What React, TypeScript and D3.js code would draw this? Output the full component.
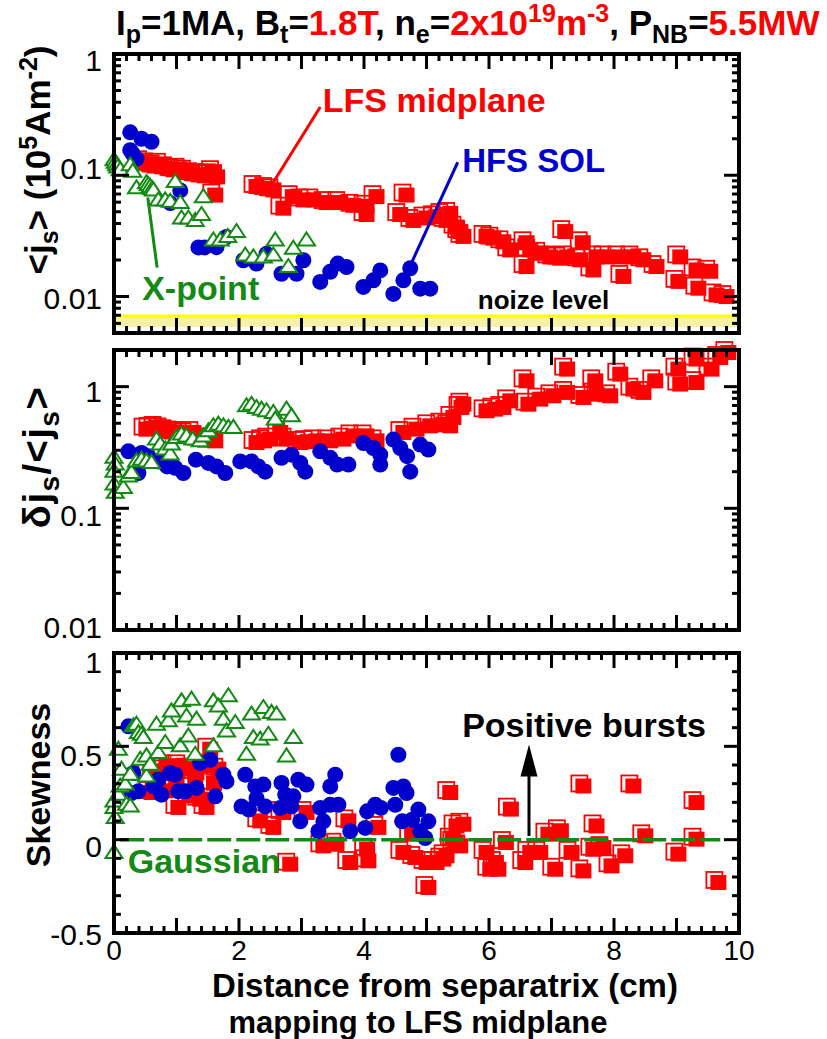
import React from "react";
import * as d3 from "d3";

// ---------------- data ----------------
const xTickValues = [0, 2, 4, 6, 8, 10];
const xTickLabels = ["0", "2", "4", "6", "8", "10"];
const jsTickValues = [1, 0.1, 0.01];
const jsTickLabels = ["1", "0.1", "0.01"];
const djTickValues = [1, 0.1, 0.01];
const djTickLabels = ["1", "0.1", "0.01"];
const skTickValues = [1, 0.5, 0, -0.5];
const skTickLabels = ["1", "0.5", "0", "-0.5"];

// <js> (1e5 A/m2) — LFS midplane (red squares)
const jsLFS: [number, number][] = [
  [0.45, 0.128], [0.55, 0.123], [0.65, 0.118], [0.75, 0.122], [0.85, 0.114], [0.95, 0.11],
  [1.05, 0.111], [1.15, 0.107], [1.25, 0.102], [1.35, 0.1], [1.45, 0.098], [1.55, 0.1],
  [1.6, 0.106], [1.65, 0.096], [1.62, 0.068],
  [2.28, 0.08], [2.45, 0.077], [2.55, 0.075], [2.71, 0.053], [2.86, 0.066], [3.03, 0.062],
  [3.19, 0.062], [3.4, 0.059], [3.62, 0.059], [3.83, 0.056], [4.04, 0.055], [4.2, 0.066],
  [4.04, 0.047], [4.68, 0.068], [4.58, 0.047], [4.79, 0.042], [5.0, 0.044], [5.15, 0.045],
  [5.27, 0.047], [5.38, 0.048], [5.32, 0.042], [5.48, 0.037], [5.54, 0.034], [5.59, 0.031],
  [5.96, 0.031], [6.07, 0.03], [6.23, 0.028], [6.34, 0.024], [6.6, 0.0275], [6.66, 0.024],
  [6.6, 0.0175], [6.82, 0.0225], [6.98, 0.021], [7.14, 0.0205], [7.25, 0.021], [7.22, 0.034],
  [7.46, 0.0199], [7.5, 0.0275], [7.67, 0.0164], [7.72, 0.021], [7.88, 0.021], [8.1, 0.021],
  [8.15, 0.0145], [8.31, 0.021], [8.47, 0.0199], [8.68, 0.0175], [9.06, 0.021], [9.03, 0.0132],
  [9.32, 0.0164], [9.54, 0.016], [9.35, 0.0116], [9.64, 0.0102], [9.8, 0.0099],
];
// HFS SOL (blue circles)
const jsHFS: [number, number][] = [
  [0.26, 0.226], [0.44, 0.2], [0.6, 0.189], [0.26, 0.161], [0.36, 0.137], [0.3, 0.15],
  [1.06, 0.075], [0.9, 0.059], [1.35, 0.0254], [1.45, 0.0254], [1.64, 0.0255], [1.8, 0.031],
  [2.07, 0.0199], [2.28, 0.0187], [2.44, 0.0225], [2.68, 0.0154], [2.92, 0.0154], [3.03, 0.0199],
  [3.3, 0.0132], [3.46, 0.016], [3.58, 0.0187], [3.72, 0.0175], [3.99, 0.012], [4.15, 0.0136],
  [4.26, 0.0164], [4.47, 0.0105], [4.63, 0.0136], [4.74, 0.0171], [4.9, 0.0116], [5.06, 0.0116],
];
// X-point (green triangles)
const jsXpt: [number, number][] = [
  [0, 0.133], [0.02, 0.127], [0.04, 0.121], [0.06, 0.116], [0.1, 0.11], [0.26, 0.121], [0.3, 0.107],
  [0.36, 0.078], [0.52, 0.086], [0.55, 0.083], [0.58, 0.08], [0.61, 0.077], [0.63, 0.075],
  [0.71, 0.062], [0.82, 0.062], [0.9, 0.0605], [0.98, 0.088], [1.06, 0.059], [1.08, 0.044],
  [1.19, 0.044], [1.3, 0.042], [1.4, 0.047], [1.43, 0.066], [1.59, 0.029], [1.7, 0.029],
  [1.82, 0.031], [1.96, 0.034], [2.1, 0.0218], [2.23, 0.021], [2.39, 0.021], [2.55, 0.0218],
  [2.58, 0.029], [2.79, 0.0175], [2.87, 0.0248], [3.08, 0.029],
];

// δjs/<js>
const djLFS: [number, number][] = [
  [0.52, 0.443], [0.6, 0.45], [0.68, 0.458], [0.76, 0.445], [0.84, 0.43], [0.92, 0.42],
  [1.0, 0.416], [1.08, 0.41], [1.16, 0.404], [1.27, 0.416], [1.38, 0.367], [1.46, 0.36],
  [1.54, 0.367], [1.62, 0.355],
  [2.28, 0.344], [2.4, 0.355], [2.5, 0.367], [2.66, 0.416], [2.76, 0.367], [2.98, 0.344],
  [3.1, 0.35], [3.24, 0.355], [3.46, 0.355], [3.67, 0.367], [3.83, 0.39], [4.04, 0.39],
  [4.2, 0.355], [4.63, 0.416], [4.84, 0.443], [5.06, 0.472], [5.27, 0.487], [5.43, 0.553],
  [5.38, 0.472], [5.56, 0.668], [5.59, 0.711], [5.96, 0.627], [6.1, 0.647], [6.23, 0.668],
  [6.34, 0.757], [6.6, 1.105], [6.63, 0.711], [6.82, 0.782], [7.03, 0.833], [7.25, 1.38],
  [7.25, 0.888], [7.51, 0.807], [7.7, 1.105], [7.72, 0.86], [7.94, 0.833], [8.1, 1.255],
  [8.31, 0.945], [8.47, 0.888], [8.66, 1.105], [9.03, 1.38], [9.06, 1.04], [9.32, 1.07],
  [9.32, 1.67], [9.56, 1.38], [9.7, 1.72], [9.83, 1.89],
];
const djHFS: [number, number][] = [
  [0.23, 0.294], [0.39, 0.195], [0.44, 0.285], [0.55, 0.268], [0.71, 0.243], [0.85, 0.221],
  [0.98, 0.215], [1.11, 0.195], [1.31, 0.251], [1.51, 0.236], [1.64, 0.221], [1.78, 0.195],
  [2.02, 0.243], [2.2, 0.243], [2.31, 0.221], [2.42, 0.2], [2.68, 0.26], [2.84, 0.276],
  [2.98, 0.236], [3.06, 0.2], [3.3, 0.294], [3.46, 0.26], [3.57, 0.229], [3.75, 0.229],
  [3.99, 0.344], [4.15, 0.313], [4.26, 0.276], [4.26, 0.229], [4.47, 0.367], [4.58, 0.313],
  [4.69, 0.268], [4.74, 0.2], [4.9, 0.334], [5.03, 0.304],
];
const djXpt: [number, number][] = [
  [0, 0.26], [0.02, 0.229], [0, 0.2], [0, 0.157], [0.02, 0.134], [0.15, 0.147], [0.23, 0.183],
  [0.28, 0.195], [0.36, 0.243], [0.44, 0.251], [0.52, 0.243], [0.6, 0.236], [0.68, 0.367],
  [0.74, 0.334], [0.82, 0.304], [0.9, 0.277], [0.92, 0.334], [1.0, 0.379], [1.08, 0.404],
  [1.16, 0.39], [1.26, 0.367], [1.38, 0.355], [1.43, 0.39], [1.51, 0.43], [1.59, 0.472],
  [1.67, 0.487], [1.75, 0.472], [1.83, 0.458], [1.91, 0.458], [2.12, 0.689], [2.2, 0.71],
  [2.28, 0.668], [2.36, 0.647], [2.44, 0.627], [2.55, 0.608], [2.58, 0.536], [2.76, 0.647],
  [2.84, 0.57],
];

// Skewness
const skLFS: [number, number][] = [
  [0.58, 0.357], [0.71, 0.366], [0.84, 0.393], [1.06, 0.393], [1.19, 0.375], [1.32, 0.357],
  [1.54, 0.393], [1.67, 0.375], [0.6, 0.25], [0.82, 0.259], [1.22, 0.232], [1.38, 0.214],
  [1.54, 0.482], [1.03, 0.17], [1.48, 0.17], [0.7, 0.3], [1.0, 0.3], [1.3, 0.31], [1.6, 0.3],
  [2.34, 0.098], [2.55, 0.063], [2.82, -0.134], [2.71, 0.143], [3.08, 0.143], [3.35, -0.036],
  [3.56, -0.027], [3.78, -0.125], [4.05, -0.054], [4.07, -0.116], [3.75, 0.098], [4.23, 0.063],
  [4.63, -0.071], [4.82, -0.098], [5.0, -0.125], [5.16, -0.125], [5.32, -0.089], [5.03, -0.259],
  [4.77, 0.027], [5.38, 0.25], [5.48, 0.071], [5.46, -0.018], [5.27, -0.107], [5.54, -0.036],
  [5.59, 0.08], [5.42, 0], [5.96, -0.071], [6.02, -0.161], [6.15, -0.161], [6.11, -0.125],
  [6.27, -0.018], [6.35, 0.161], [6.58, -0.125], [6.66, -0.071], [6.82, -0.071], [6.95, 0.027],
  [7.06, -0.161], [7.15, 0.045], [7.32, -0.071], [7.51, -0.17], [7.51, 0.285], [7.67, -0.054],
  [7.72, 0.071], [7.83, -0.045], [7.96, -0.143], [8.18, -0.089], [8.31, 0.285], [8.5, 0.018],
  [9.03, -0.08], [9.32, 0.196], [9.32, 0], [9.67, -0.232],
];
const skHFS: [number, number][] = [
  [0.23, 0.607], [0.31, 0.357], [0.39, 0.259], [0.28, 0.25], [0.63, 0.285], [0.76, 0.241],
  [0.71, 0.321], [0.9, 0.357], [0.98, 0.348], [1.03, 0.259], [1.14, 0.259], [1.32, 0.277],
  [1.38, 0.411], [1.54, 0.428], [1.62, 0.232], [1.75, 0.348], [1.8, 0.312], [2.1, 0.348],
  [2.26, 0.285], [2.39, 0.295], [2.04, 0.178], [2.16, 0.161], [2.28, 0.223], [2.42, 0.178],
  [2.68, 0.304], [2.74, 0.241], [2.87, 0.232], [2.95, 0.321], [3.08, 0.295], [2.66, 0.17],
  [2.84, 0.178], [2.98, 0.098], [3.3, 0.17], [3.46, 0.187], [3.59, 0.187], [3.35, 0.098],
  [3.27, 0.045], [3.46, 0.285], [3.54, 0.348], [3.78, 0.045], [4.02, 0.063], [4.05, 0.152],
  [4.18, 0.187], [4.27, 0.17], [4.55, 0.455], [4.47, 0.277], [4.63, 0.285], [4.68, 0.25],
  [4.5, 0.187], [4.61, 0.098], [4.77, 0.107], [4.87, 0.161], [5.03, 0.098], [4.9, 0.045],
  [4.98, 0.009],
];
const skXpt: [number, number][] = [
  [0, -0.071], [0.02, 0.116], [0, 0.17], [0, 0.205], [0.07, 0.241], [0.1, 0.285], [0.18, 0.295],
  [0.2, 0.187], [0.26, 0.178], [0.07, 0.482], [0.12, 0.375], [0.26, 0.348], [0.31, 0.607],
  [0.36, 0.616], [0.39, 0.571], [0.44, 0.562], [0.47, 0.545], [0.42, 0.428], [0.52, 0.446],
  [0.52, 0.339], [0.58, 0.402], [0.68, 0.616], [0.71, 0.464], [0.82, 0.518], [0.87, 0.634],
  [0.92, 0.687], [1.08, 0.741], [1.24, 0.75], [1.06, 0.5], [1.19, 0.553], [1.16, 0.66],
  [1.3, 0.455], [1.32, 0.643], [1.59, 0.741], [1.67, 0.714], [1.83, 0.768], [1.75, 0.643],
  [1.8, 0.58], [1.94, 0.625], [1.59, 0.5], [2.2, 0.67], [2.39, 0.705], [2.52, 0.679],
  [2.6, 0.67], [2.12, 0.455], [2.23, 0.545], [2.34, 0.536], [2.47, 0.562], [2.76, 0.446],
  [2.87, 0.545],
];

const noiseBand = [0.0056, 0.0069];
const gaussianRange = [0.1, 9.7];
const burstArrow = { x: 6.64, from: 0.02, to: 0.51 };

// annotation anchors (data coords)
const lfsLabel = { x: 3.34, y: 0.33 };
const lfsLine = [[3.3, 0.365], [2.54, 0.086]];
const hfsLabel = { x: 5.57, y: 0.106 };
const hfsLine = [[5.5, 0.128], [4.74, 0.018]];
const xptLabel = { x: 0.45, y: 0.0093 };
const xptLine = [[0.69, 0.0173], [0.54, 0.0657]];
const noiseLabel = { x: 5.82, y: 0.0079 };
const gaussLabel = { x: 0.22, y: -0.177 };
const burstLabel = { x: 5.57, y: 0.552 };

// ---------------- layout ----------------
const X_LEFT = 114, X_RIGHT = 739;
const J_TOP = 54, J_BOT = 333;
const D_TOP = 350, D_BOT = 630;
const S_TOP = 653, S_BOT = 933;
const RED = "#ff0000", BLUE = "#0000cc", GREEN = "#138a13";
const FONT = "'Liberation Sans', Arial, Helvetica, sans-serif";

const x = d3.scaleLinear().domain([0, 10]).range([X_LEFT, X_RIGHT]);
const yJ = d3.scaleLog().domain([0.005, 1]).range([J_BOT, J_TOP]);
const yD = d3.scaleLog().domain([0.01, 2]).range([D_BOT, D_TOP]);
const yS = d3.scaleLinear().domain([-0.5, 1]).range([S_BOT, S_TOP]);

type Tick = { p: number; major: boolean };

function logTicks(scale: d3.ScaleLogarithmic<number, number>): Tick[] {
  const [lo, hi] = scale.domain();
  const out: Tick[] = [];
  for (let e = -3; e <= 1; e++) {
    for (let m = 1; m <= 9; m++) {
      const v = m * Math.pow(10, e);
      if (v > lo * 1.0001 && v < hi * 0.9999) out.push({ p: scale(v), major: m === 1 });
    }
  }
  return out;
}
function linTicks(scale: d3.ScaleLinear<number, number>, step: number, majorEvery: number): Tick[] {
  const [lo, hi] = scale.domain();
  return d3.range(lo, hi + step / 2, step)
    .filter((v) => v > lo + 1e-6 && v < hi - 1e-6)
    .map((v) => ({ p: scale(v), major: Math.abs(v / majorEvery - Math.round(v / majorEvery)) < 1e-6 }));
}
const xTicks = linTicks(x, 0.2, 1);

function Frame({ top, bottom, yTicks }: { top: number; bottom: number; yTicks: Tick[] }) {
  const L = (t: Tick) => (t.major ? 15 : 7);
  return (
    <g stroke="#000" strokeWidth={3}>
      {xTicks.map((t, i) => (
        <g key={"x" + i}>
          <line x1={t.p} x2={t.p} y1={top} y2={top + L(t)} />
          <line x1={t.p} x2={t.p} y1={bottom} y2={bottom - L(t)} />
        </g>
      ))}
      {yTicks.map((t, i) => (
        <g key={"y" + i}>
          <line x1={X_LEFT} x2={X_LEFT + L(t)} y1={t.p} y2={t.p} />
          <line x1={X_RIGHT} x2={X_RIGHT - L(t)} y1={t.p} y2={t.p} />
        </g>
      ))}
      <rect x={X_LEFT} y={top} width={X_RIGHT - X_LEFT} height={bottom - top} fill="none" strokeWidth={4} />
    </g>
  );
}

function Squares({ data, ys }: { data: [number, number][]; ys: (v: number) => number }) {
  return (
    <g>
      {data.map(([a, b], i) => {
        const cx = x(a), cy = ys(b);
        return (
          <g key={i}>
            <rect x={cx - 12} y={cy - 11} width={16} height={16} fill="none" stroke={RED} strokeWidth={1.8} />
            <rect x={cx - 8} y={cy - 8} width={16} height={15} fill={RED} />
          </g>
        );
      })}
    </g>
  );
}
function Circles({ data, ys }: { data: [number, number][]; ys: (v: number) => number }) {
  return (
    <g fill={BLUE}>
      {data.map(([a, b], i) => <circle key={i} cx={x(a)} cy={ys(b)} r={8} />)}
    </g>
  );
}
function Triangles({ data, ys }: { data: [number, number][]; ys: (v: number) => number }) {
  return (
    <g fill="#fff" stroke={GREEN} strokeWidth={2}>
      {data.map(([a, b], i) => {
        const cx = x(a), cy = ys(b);
        return <path key={i} d={`M${cx},${cy - 8}L${cx + 8.5},${cy + 5}L${cx - 8.5},${cy + 5}Z`} />;
      })}
    </g>
  );
}

function YLabels({ values, labels, ys, offsets }: { values: number[]; labels: string[]; ys: (v: number) => number; offsets: number[] }) {
  return (
    <g fontSize={30} textAnchor="end" fill="#000">
      {values.map((v, i) => (
        <text key={i} x={102} y={ys(v) + offsets[i]}>{labels[i]}</text>
      ))}
    </g>
  );
}

export default function App() {
  const gy = yS(0);
  const ax = x(burstArrow.x), aTop = yS(burstArrow.to), aBot = yS(burstArrow.from);
  return (
    <svg width={827} height={1039} style={{ position: "absolute", left: 0, top: 0, background: "#fff" }}
      fontFamily={FONT}>
      <rect width={827} height={1039} fill="#fff" />
      {/* Title */}
      <text x={116} y={35} fontSize={35} fontWeight="bold" fill="#000">
        I<tspan fontSize={25} dy={8}>p</tspan>
        <tspan dy={-8}>=1MA, B</tspan>
        <tspan fontSize={25} dy={8}>t</tspan>
        <tspan dy={-8}>=</tspan>
        <tspan fill={RED}>1.8T</tspan>
        <tspan>, n</tspan>
        <tspan fontSize={25} dy={8}>e</tspan>
        <tspan dy={-8}>=</tspan>
        <tspan fill={RED}>2x10</tspan>
        <tspan fill={RED} fontSize={25} dy={-13}>19</tspan>
        <tspan fill={RED} dy={13}>m</tspan>
        <tspan fill={RED} fontSize={25} dy={-13}>-3</tspan>
        <tspan dy={13}>, P</tspan>
        <tspan fontSize={25} dy={8}>NB</tspan>
        <tspan dy={-8}>=</tspan>
        <tspan fill={RED}>5.5MW</tspan>
      </text>

      {/* Panel 1 */}
      <rect x={X_LEFT} y={yJ(noiseBand[1])} width={X_RIGHT - X_LEFT}
        height={yJ(noiseBand[0]) - yJ(noiseBand[1])} fill="#f7f1a8" />
      <line x1={X_LEFT} x2={X_RIGHT} y1={yJ(noiseBand[1])} y2={yJ(noiseBand[1])} stroke="#ffff00" strokeWidth={3} />
      <Squares data={jsLFS} ys={yJ} />
      <Circles data={jsHFS} ys={yJ} />
      <Triangles data={jsXpt} ys={yJ} />
      <Frame top={J_TOP} bottom={J_BOT} yTicks={logTicks(yJ)} />
      <YLabels values={jsTickValues} labels={jsTickLabels} ys={yJ} offsets={[17, 4, 12]} />
      <line x1={x(lfsLine[0][0])} y1={yJ(lfsLine[0][1])} x2={x(lfsLine[1][0])} y2={yJ(lfsLine[1][1])} stroke={RED} strokeWidth={3} />
      <line x1={x(hfsLine[0][0])} y1={yJ(hfsLine[0][1])} x2={x(hfsLine[1][0])} y2={yJ(hfsLine[1][1])} stroke={BLUE} strokeWidth={3} />
      <line x1={x(xptLine[0][0])} y1={yJ(xptLine[0][1])} x2={x(xptLine[1][0])} y2={yJ(xptLine[1][1])} stroke={GREEN} strokeWidth={3} />
      <text x={x(lfsLabel.x)} y={yJ(lfsLabel.y)} fontSize={34} fontWeight="bold" fill={RED}>LFS midplane</text>
      <text x={x(hfsLabel.x)} y={yJ(hfsLabel.y)} fontSize={33} fontWeight="bold" fill={BLUE}>HFS SOL</text>
      <text x={x(xptLabel.x)} y={yJ(xptLabel.y)} fontSize={34} fontWeight="bold" fill={GREEN}>X-point</text>
      <text x={x(noiseLabel.x)} y={yJ(noiseLabel.y)} fontSize={26} fontWeight="bold" fill="#000">noize level</text>
      <text transform="translate(50,160) rotate(-90)" textAnchor="middle" fontSize={35} fontWeight="bold">
        {"<j"}<tspan fontSize={25} dy={8}>s</tspan>
        <tspan dy={-8}>{"> (10"}</tspan>
        <tspan fontSize={25} dy={-13}>5</tspan>
        <tspan dy={13}>Am</tspan>
        <tspan fontSize={25} dy={-13}>-2</tspan>
        <tspan dy={13}>)</tspan>
      </text>

      {/* Panel 2 */}
      <Squares data={djLFS} ys={yD} />
      <Circles data={djHFS} ys={yD} />
      <Triangles data={djXpt} ys={yD} />
      <Frame top={D_TOP} bottom={D_BOT} yTicks={logTicks(yD)} />
      <YLabels values={djTickValues} labels={djTickLabels} ys={yD} offsets={[15, 18, 8]} />
      <text transform="translate(50,457) rotate(-90)" textAnchor="middle" fontSize={38} fontWeight="bold" letterSpacing={1.5}>
        {"δj"}<tspan fontSize={28} dy={9}>s</tspan>
        <tspan dy={-9}>{"/<j"}</tspan>
        <tspan fontSize={28} dy={9}>s</tspan>
        <tspan dy={-9}>{">"}</tspan>
      </text>

      {/* Panel 3 */}
      <Squares data={skLFS} ys={yS} />
      <Circles data={skHFS} ys={yS} />
      <Triangles data={skXpt} ys={yS} />
      <line x1={x(gaussianRange[0])} x2={x(gaussianRange[1])} y1={gy} y2={gy} stroke={GREEN}
        strokeWidth={3.5} strokeDasharray="24 5" />
      <Frame top={S_TOP} bottom={S_BOT} yTicks={linTicks(yS, 0.1, 0.5)} />
      <YLabels values={skTickValues} labels={skTickLabels} ys={yS} offsets={[20, 20, 17, 12]} />
      <text x={x(gaussLabel.x)} y={yS(gaussLabel.y)} fontSize={34} fontWeight="bold" fill={GREEN}>Gaussian</text>
      <text x={x(burstLabel.x)} y={yS(burstLabel.y)} fontSize={34} fontWeight="bold" fill="#000">Positive bursts</text>
      <line x1={ax} x2={ax} y1={aBot} y2={aTop + 20} stroke="#000" strokeWidth={3} />
      <path d={`M${ax},${aTop}L${ax + 8.5},${aTop + 32}L${ax - 8.5},${aTop + 32}Z`} fill="#000" />
      <text transform="translate(50,785) rotate(-90)" textAnchor="middle" fontSize={34} fontWeight="bold">Skewness</text>

      {/* x tick labels */}
      <g fontSize={28} textAnchor="middle">
        {xTickValues.map((v, i) => (
          <text key={i} x={x(v)} y={960}>{xTickLabels[i]}</text>
        ))}
      </g>
      <text x={445} y={997} textAnchor="middle" fontSize={33} fontWeight="bold">Distance from separatrix (cm)</text>
      <text x={418} y={1033} textAnchor="middle" fontSize={31} fontWeight="bold">mapping to LFS midplane</text>
    </svg>
  );
}
